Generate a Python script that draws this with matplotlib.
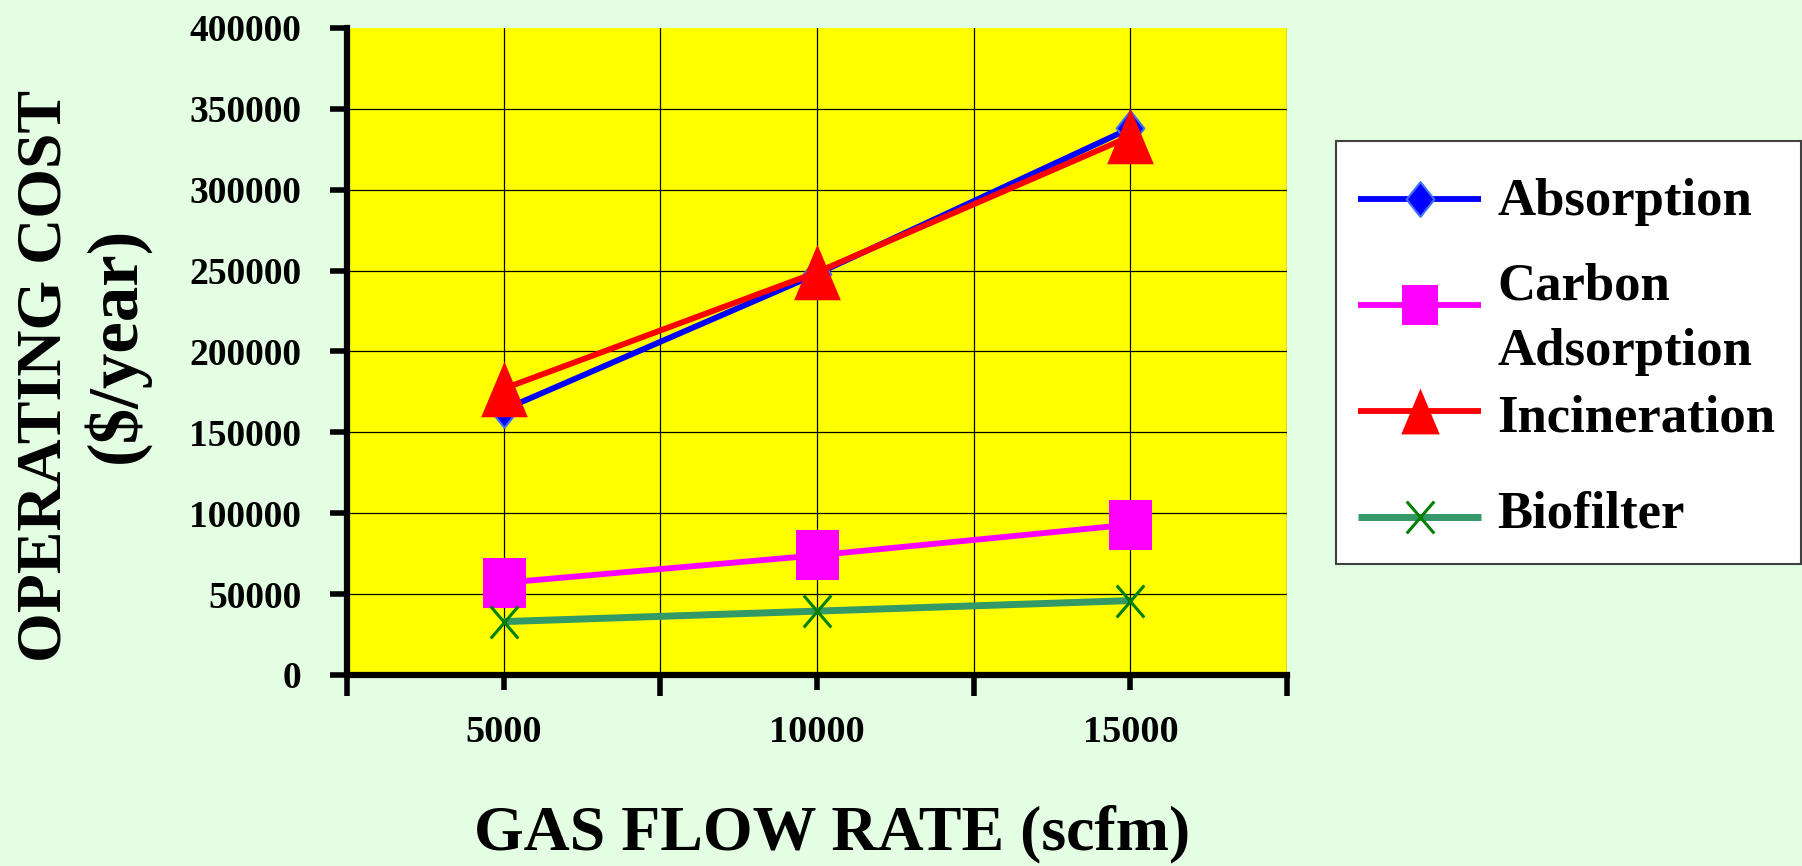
import matplotlib
matplotlib.use('Agg')
import matplotlib.pyplot as plt
from matplotlib.path import Path
from matplotlib.patches import Rectangle

# ---------------- data ----------------
flow_rates = [5000, 10000, 15000]
series_names = ['Absorption', 'Carbon\nAdsorption', 'Incineration', 'Biofilter']
absorption = [164000, 248000, 338000]
carbon_adsorption = [57000, 74000, 93000]
incineration = [177000, 249000, 333000]
biofilter = [33000, 39500, 46000]
y_ticks = [0, 50000, 100000, 150000, 200000, 250000, 300000, 350000, 400000]
x_ticks = [5000, 10000, 15000]
x_bounds = [2500, 7500, 12500, 17500]
x_label = 'GAS FLOW RATE (scfm)'
y_label_lines = ['OPERATING COST', '($/year)']

# ---------------- setup ----------------
W, H, DPI = 1802, 866, 100
plt.rcParams['font.family'] = ['Liberation Serif', 'DejaVu Serif']
plt.rcParams['font.weight'] = 'bold'

fig = plt.figure(figsize=(W / DPI, H / DPI), dpi=DPI, facecolor='#E3FEE3')
ax = fig.add_axes([347 / W, 1 - 675 / H, (1287 - 347) / W, (675 - 28) / H])
ax.set_facecolor('#FFFF00')
ax.set_xlim(x_bounds[0], x_bounds[-1])
ax.set_ylim(y_ticks[0], y_ticks[-1])

M, L, C = Path.MOVETO, Path.LINETO, Path.CLOSEPOLY
tri = Path([(0, 0.5), (-0.42, -0.5), (0.42, -0.5), (0, 0.5)], [M, L, L, C])
sq = Path([(-0.43, -0.5), (0.43, -0.5), (0.43, 0.5), (-0.43, 0.5), (-0.43, -0.5)], [M, L, L, L, C])
dia = Path([(0, 0.5), (-0.4, 0), (0, -0.5), (0.4, 0), (0, 0.5)], [M, L, L, L, C])
xm = Path([(-0.43, -0.5), (0.43, 0.5), (-0.43, 0.5), (0.43, -0.5)], [M, L, M, L])

styles = [
    dict(color='#0000FF', lw=4.2, marker=dia, ms=25, mfc='#0000FF', mec='#3F6FFF', mew=1.5),
    dict(color='#FF00FF', lw=4.2, marker=sq, ms=36, mfc='#FF00FF', mec='#FF00FF', mew=0),
    dict(color='#FF0000', lw=4.2, marker=tri, ms=40, mfc='#FF0000', mec='#FF0000', mew=0),
    dict(color='#339966', lw=5.0, marker=xm, ms=23, mfc='none', mec='#008000', mew=2.2),
]
legend_ms = [25, 29.5, 33, 23]
series = [absorption, carbon_adsorption, incineration, biofilter]

for vals, st in zip(series, styles):
    ax.plot(flow_rates, vals, solid_capstyle='butt', **st)

# ticks and grid
ax.set_yticks(y_ticks, labels=[str(v) for v in y_ticks])
ax.set_xticks(x_ticks, labels=[str(v) for v in x_ticks])
ax.set_xticks(x_bounds, minor=True)
ax.tick_params(axis='y', length=12, width=4, pad=21, labelsize=27, direction='out')
ax.tick_params(axis='x', which='major', length=11, width=4, pad=18, labelsize=27.5, direction='out')
ax.tick_params(axis='x', which='minor', length=15, width=4, direction='out')
ax.grid(axis='y', color='black', lw=0.9)
ax.grid(axis='x', which='both', color='black', lw=0.9)
ax.yaxis.get_major_ticks()[-1].gridline.set_visible(False)
for t in ax.xaxis.get_minor_ticks():
    if t.get_loc() in (x_bounds[0], x_bounds[-1]):
        t.gridline.set_visible(False)
for s in ['top', 'right']:
    ax.spines[s].set_visible(False)
for s in ['left', 'bottom']:
    ax.spines[s].set_linewidth(4.5)
    ax.spines[s].set_color('black')

# ---------------- overlay (legend and axis titles) ----------------
lax = fig.add_axes([0, 0, 1, 1])
lax.set_xlim(0, W)
lax.set_ylim(H, 0)
lax.axis('off')

lax.add_patch(Rectangle((1336, 141), 465, 423, facecolor='white', edgecolor='#404040', lw=1.5))
handle_y = [199, 305, 411, 517]
label_baselines = [[215], [300, 365], [432], [527]]
for name, st, ms, hy, bls in zip(series_names, styles, legend_ms, handle_y, label_baselines):
    s2 = dict(st)
    s2['ms'] = ms
    lax.plot([1358, 1419.5, 1481], [hy, hy, hy], markevery=[1], solid_capstyle='butt', **s2)
    for line, bl in zip(name.split('\n'), bls):
        lax.text(1497, bl, line, fontsize=38, fontweight='bold', ha='left', va='baseline')

lax.text(832, 849, x_label, fontsize=46, fontweight='bold', ha='center', va='baseline')
lax.text(61, 376, y_label_lines[0], fontsize=46, fontweight='bold', rotation=90,
         rotation_mode='anchor', ha='center', va='baseline')
lax.text(135, 345, y_label_lines[1], fontsize=51, fontweight='bold', rotation=90,
         rotation_mode='anchor', ha='center', va='baseline')

fig.savefig('out.png', dpi=DPI, facecolor=fig.get_facecolor())
